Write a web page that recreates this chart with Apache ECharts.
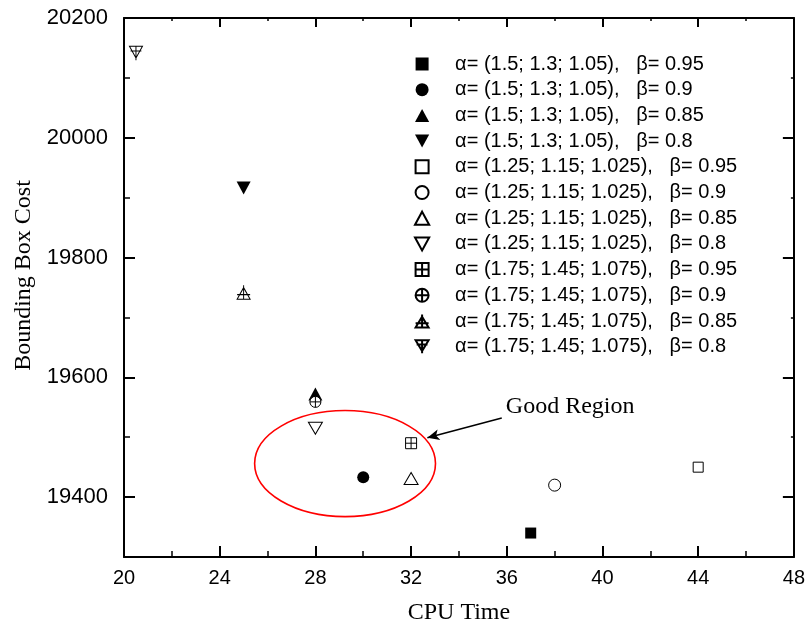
<!DOCTYPE html>
<html>
<head>
<meta charset="utf-8">
<script src="https://cdn.jsdelivr.net/npm/echarts@6/dist/echarts.min.js"></script>
<style>html,body{margin:0;padding:0;background:#fff;}#c{width:808px;height:635px;}</style>
</head>
<body>
<div id="c"></div>
<script>
// ---- data ----
const seriesNames = [
  'α= (1.5; 1.3; 1.05),   β= 0.95',
  'α= (1.5; 1.3; 1.05),   β= 0.9',
  'α= (1.5; 1.3; 1.05),   β= 0.85',
  'α= (1.5; 1.3; 1.05),   β= 0.8',
  'α= (1.25; 1.15; 1.025),   β= 0.95',
  'α= (1.25; 1.15; 1.025),   β= 0.9',
  'α= (1.25; 1.15; 1.025),   β= 0.85',
  'α= (1.25; 1.15; 1.025),   β= 0.8',
  'α= (1.75; 1.45; 1.075),   β= 0.95',
  'α= (1.75; 1.45; 1.075),   β= 0.9',
  'α= (1.75; 1.45; 1.075),   β= 0.85',
  'α= (1.75; 1.45; 1.075),   β= 0.8'
];
const cpuTime = [37, 30, 28, 25, 44, 38, 32, 28, 32, 28, 25, 20.5];
const boxCost = [19340, 19433, 19572, 19916, 19450, 19420, 19431, 19515, 19490, 19559, 19742, 20141];
const yMajorTicks = [19400, 19600, 19800, 20000, 20200];
const yMinorTicks = [19300, 19500, 19700, 19900, 20100];
// annotation: ellipse [cx, cy, rx, ry], arrow [from, to], label anchor
const regionEllipse = [29.24, 19456, 3.78, 88.5];
const arrowFrom = [35.79, 19532];
const arrowTo = [32.68, 19499];
const regionLabel = 'Good Region';
const regionLabelAnchor = [35.96, 19551];

// ---- styles ----
const SANS = '"Liberation Sans", Arial, sans-serif';
const SERIF = '"Liberation Serif", "Times New Roman", serif';
const SQ = 'path://M0,0L10,0L10,10L0,10Z';
const TRI_UP = 'path://M6,0L12,11L0,11Z';
const TRI_DN = 'path://M0,0L12,0L6,11Z';
const symbols = [
  SQ, 'circle', TRI_UP, TRI_DN,
  SQ, 'circle', TRI_UP, TRI_DN,
  'path://M0,0L10,0L10,10L0,10Z M5,0L5,10 M0,5L10,5',
  'path://M0,5A5,5,0,1,1,10,5A5,5,0,1,1,0,5Z M5,0L5,10 M0,5L10,5',
  'path://M6,2L12,12L0,12Z M6,0L6,12 M0,8L12,8',
  'path://M0,0L12,0L6,10Z M6,0L6,12 M1,4L11,4'
];
const sizes = [
  [11, 11], 12, [14, 13], [14, 13],
  [10, 10], 12, [14, 12], [14, 12],
  [11, 11], [11, 11], [13, 14], [13, 14]
];
const filled = [true, true, true, true, false, false, false, false, false, false, false, false];

const series = seriesNames.map((name, i) => ({
  type: 'scatter',
  name: name,
  data: [[cpuTime[i], boxCost[i]]],
  symbol: symbols[i],
  symbolSize: sizes[i],
  itemStyle: filled[i]
    ? { color: '#000', borderWidth: 0, opacity: 1 }
    : { color: '#fff', borderColor: '#000', borderWidth: 1, opacity: 1 },
  emphasis: { disabled: true },
  silent: true,
  z: 3
}));

series.push({
  type: 'custom',
  silent: true,
  z: 2,
  data: [regionEllipse],
  renderItem: function (params, api) {
    const c = api.coord([api.value(0), api.value(1)]);
    const s = api.size([api.value(2), api.value(3)]);
    const t = api.coord(regionLabelAnchor);
    return {
      type: 'group',
      children: [
        { type: 'ellipse', shape: { cx: c[0], cy: c[1], rx: s[0], ry: s[1] },
          style: { stroke: '#ff0000', fill: null, lineWidth: 1.6 } },
        { type: 'text', x: t[0], y: t[1],
          style: { text: regionLabel, fill: '#000', font: '24px ' + SERIF, textAlign: 'left', textVerticalAlign: 'middle' } }
      ]
    };
  },
  markLine: {
    silent: true,
    symbol: ['none', 'arrow'],
    symbolSize: [8, 12],
    label: { show: false },
    lineStyle: { color: '#000', width: 1.5, type: 'solid' },
    emphasis: { disabled: true },
    data: [[{ coord: arrowFrom }, { coord: arrowTo }]]
  }
});

const lineStyle = { color: '#000', width: 2 };
function xAx(pos, show) {
  return {
    type: 'value', position: pos, min: 20, max: 48, interval: 4,
    axisLine: { show: true, onZero: false, lineStyle: lineStyle },
    axisTick: { show: true, inside: true, length: pos === 'bottom' ? 11 : 9, lineStyle: lineStyle },
    minorTick: { show: true, splitNumber: 2, length: pos === 'bottom' ? 6 : 3, lineStyle: { color: '#000', width: 1.5 } },
    axisLabel: { show: show, color: '#000', fontSize: 20, fontFamily: SANS, margin: 11 },
    splitLine: { show: false },
    minorSplitLine: { show: false },
    name: show ? 'CPU Time' : '',
    nameLocation: 'middle', nameGap: 44,
    nameTextStyle: { color: '#000', fontSize: 24, fontFamily: SERIF }
  };
}
function yAx(pos, ticks, len, line, labels) {
  return {
    type: 'value', position: pos, min: 19300, max: 20200,
    axisLine: { show: line, onZero: false, lineStyle: lineStyle },
    axisTick: { show: true, inside: true, length: len, customValues: ticks, lineStyle: { color: '#000', width: len > 6 ? 2 : 1.5 } },
    axisLabel: labels
      ? { show: true, customValues: yMajorTicks, formatter: v => String(v), color: '#000', fontSize: 22, fontFamily: SANS, margin: 16 }
      : { show: false },
    splitLine: { show: false },
    name: labels ? 'Bounding Box Cost' : '',
    nameLocation: 'middle', nameGap: 80,
    nameTextStyle: { color: '#000', fontSize: 24, fontFamily: SERIF, padding: [0, 0, 0, 24] }
  };
}

const chart = echarts.init(document.getElementById('c'), null, { renderer: 'canvas' });
chart.setOption({
  animation: false,
  backgroundColor: '#fff',
  grid: { left: 124, right: 12, top: 18, bottom: 78, containLabel: false },
  xAxis: [xAx('bottom', true), xAx('top', false)],
  yAxis: [
    yAx('left', yMajorTicks, 11, true, true),
    yAx('left', yMinorTicks, 6, false, false),
    yAx('right', yMajorTicks, 11, true, false),
    yAx('right', yMinorTicks, 3, false, false)
  ],
  legend: {
    data: seriesNames,
    orient: 'vertical',
    left: 409, top: 49,
    itemWidth: 56, itemHeight: 13, itemGap: 5.7,
    selectedMode: false,
    textStyle: { color: '#000', fontSize: 20, fontFamily: SANS }
  },
  series: series
});
</script>
</body>
</html>
